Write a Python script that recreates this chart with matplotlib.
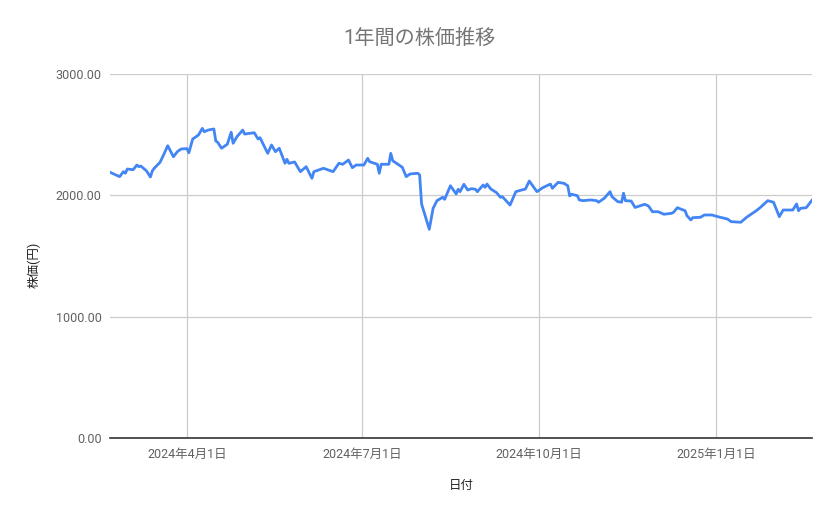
import matplotlib
matplotlib.use("Agg")
import matplotlib.pyplot as plt
import matplotlib.dates as mdates
import pandas as pd

plt.rcParams['font.family'] = ['Roboto', 'Noto Sans CJK JP', 'DejaVu Sans']

# =========================
# データ
# =========================
dates = [
    "2024-02-21", "2024-02-26", "2024-02-28", "2024-02-29", "2024-03-01",
    "2024-03-04", "2024-03-06", "2024-03-07", "2024-03-08", "2024-03-11",
    "2024-03-13", "2024-03-14", "2024-03-15", "2024-03-18", "2024-03-20",
    "2024-03-22", "2024-03-25", "2024-03-27", "2024-03-29", "2024-04-01",
    "2024-04-02", "2024-04-04", "2024-04-07", "2024-04-09", "2024-04-10",
    "2024-04-12", "2024-04-15", "2024-04-16", "2024-04-17", "2024-04-19",
    "2024-04-22", "2024-04-24", "2024-04-25", "2024-04-27", "2024-04-30",
    "2024-05-01", "2024-05-06", "2024-05-08", "2024-05-09", "2024-05-13",
    "2024-05-15", "2024-05-17", "2024-05-19", "2024-05-22", "2024-05-23",
    "2024-05-24", "2024-05-27", "2024-05-30", "2024-06-02", "2024-06-05",
    "2024-06-06", "2024-06-11", "2024-06-16", "2024-06-19", "2024-06-21",
    "2024-06-24", "2024-06-26", "2024-06-28", "2024-07-02", "2024-07-04",
    "2024-07-05", "2024-07-09", "2024-07-10", "2024-07-11", "2024-07-15",
    "2024-07-16", "2024-07-17", "2024-07-22", "2024-07-24", "2024-07-26",
    "2024-07-30", "2024-07-31", "2024-08-01", "2024-08-05", "2024-08-07",
    "2024-08-09", "2024-08-12", "2024-08-13", "2024-08-16", "2024-08-19",
    "2024-08-20", "2024-08-21", "2024-08-23", "2024-08-25", "2024-08-27",
    "2024-08-29", "2024-08-30", "2024-09-02", "2024-09-03", "2024-09-04",
    "2024-09-06", "2024-09-09", "2024-09-11", "2024-09-12", "2024-09-16",
    "2024-09-19", "2024-09-22", "2024-09-24", "2024-09-26", "2024-09-30",
    "2024-10-03", "2024-10-07", "2024-10-08", "2024-10-11", "2024-10-14",
    "2024-10-16", "2024-10-17", "2024-10-18", "2024-10-21", "2024-10-22",
    "2024-10-24", "2024-10-28", "2024-10-31", "2024-11-01", "2024-11-04",
    "2024-11-07", "2024-11-08", "2024-11-11", "2024-11-13", "2024-11-14",
    "2024-11-15", "2024-11-18", "2024-11-20", "2024-11-25", "2024-11-27",
    "2024-11-29", "2024-12-02", "2024-12-05", "2024-12-09", "2024-12-10",
    "2024-12-12", "2024-12-16", "2024-12-17", "2024-12-19", "2024-12-20",
    "2024-12-24", "2024-12-26", "2024-12-30", "2025-01-02", "2025-01-07",
    "2025-01-09", "2025-01-14", "2025-01-17", "2025-01-22", "2025-01-24",
    "2025-01-28", "2025-01-31", "2025-02-03", "2025-02-05", "2025-02-10",
    "2025-02-12", "2025-02-13", "2025-02-14", "2025-02-17", "2025-02-20",
]

prices = [
    2190, 2154, 2195, 2182, 2217,
    2211, 2250, 2236, 2242, 2201,
    2151, 2201, 2223, 2272, 2338,
    2409, 2318, 2360, 2382, 2385,
    2351, 2464, 2497, 2552, 2524,
    2538, 2547, 2448, 2437, 2388,
    2421, 2520, 2429, 2483, 2538,
    2505, 2516, 2464, 2475, 2346,
    2415, 2360, 2388, 2264, 2297,
    2264, 2275, 2195, 2236, 2140,
    2195, 2223, 2195, 2264, 2256,
    2291, 2228, 2250, 2250, 2305,
    2277, 2256, 2182, 2256, 2256,
    2346, 2285, 2231, 2154, 2176,
    2182, 2168, 1929, 1720, 1893,
    1956, 1984, 1967, 2079, 2011,
    2050, 2030, 2091, 2044, 2055,
    2050, 2030, 2085, 2066, 2093,
    2052, 2022, 1984, 1989, 1920,
    2030, 2044, 2052, 2118, 2030,
    2063, 2093, 2058, 2107, 2099,
    2079, 1995, 2009, 1997, 1962,
    1956, 1962, 1956, 1943, 1976,
    2030, 1989, 1948, 1943, 2017,
    1956, 1953, 1900, 1926, 1912,
    1865, 1865, 1844, 1852, 1860,
    1898, 1873, 1832, 1797, 1816,
    1819, 1838, 1838, 1824, 1805,
    1783, 1778, 1819, 1873, 1898,
    1956, 1943, 1824, 1879, 1879,
    1929, 1873, 1893, 1898, 1960,
]

yticks = [0, 1000, 2000, 3000]
xticks = ["2024-04-01", "2024-07-01", "2024-10-01", "2025-01-01"]

title = "1年間の株価推移"
xlabel = "日付"
ylabel = "株価(円)"

# =========================
# 描画
# =========================
x = pd.to_datetime(dates)
xt = pd.to_datetime(xticks)

fig = plt.figure(figsize=(8.39, 5.19), dpi=100)
ax = fig.add_axes([110 / 839, 1 - 438 / 519, 702 / 839, 364 / 519])

ax.plot(x, prices, color="#4285F4", linewidth=2.0, solid_joinstyle="round")

ax.set_xlim(x[0], x[-1])
ax.set_ylim(0, 3000)

ax.set_yticks(yticks)
ax.set_yticklabels([f"{v:.2f}" for v in yticks])
ax.set_xticks(xt)
ax.set_xticklabels([f"{d.year}年{d.month}月{d.day}日" for d in xt])

ax.grid(True, color="#cccccc", linewidth=0.9)
ax.set_axisbelow(True)
for s in ["top", "right", "left"]:
    ax.spines[s].set_visible(False)
ax.spines["bottom"].set_color("#333333")
ax.spines["bottom"].set_linewidth(1.2)
ax.tick_params(axis="both", length=0, labelsize=9, labelcolor="#616161")
ax.tick_params(axis="x", pad=7)
ax.tick_params(axis="y", pad=6)

fig.text(0.5, 1 - 38 / 519, title, ha="center", va="center",
         fontsize=14.5, color="#757575")
fig.text(461 / 839, 1 - 486 / 519, xlabel, ha="center", va="center",
         fontsize=9, color="#222222")
fig.text(34 / 839, 1 - 265 / 519, ylabel, ha="center", va="center",
         rotation=90, fontsize=9, color="#222222")

fig.savefig("out.png", dpi=100)
plt.close(fig)
